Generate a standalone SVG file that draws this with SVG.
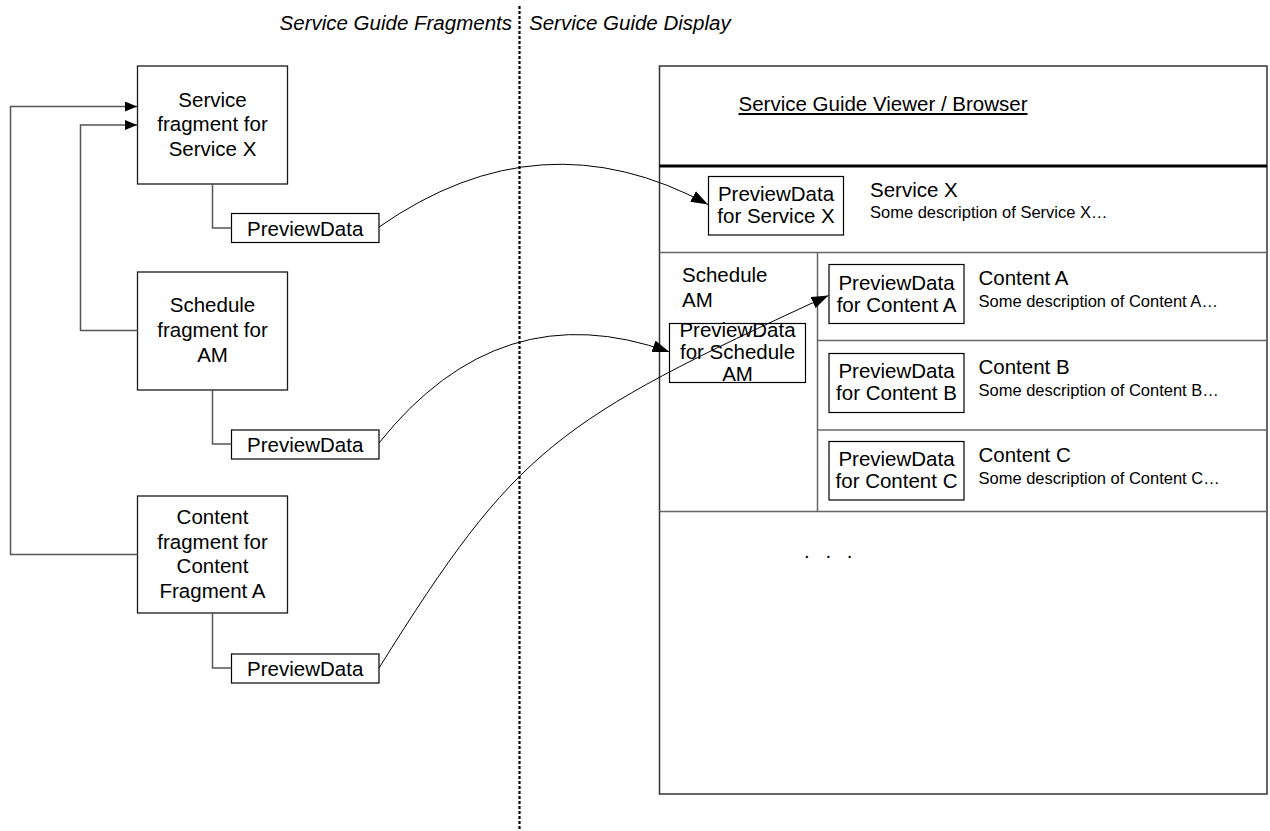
<svg xmlns="http://www.w3.org/2000/svg" width="1270" height="831" viewBox="0 0 1270 831">
<style>
text{font-family:"Liberation Sans",Arial,sans-serif;fill:#000}
.big{font-size:20.5px}
.mid{text-anchor:middle}
.small{font-size:16.5px}
.ttl{font-size:20.5px;font-style:italic}
.box{fill:#fff;stroke:#1a1a1a;stroke-width:1.3}
.pbox{fill:#fff;stroke:#000;stroke-width:1.2}
.con{fill:none;stroke:#555;stroke-width:1.5}
.curve{fill:none;stroke:#000;stroke-width:1}
.panel{fill:none;stroke:#666;stroke-width:1.5}
</style>
<defs>
<marker id="ah" markerUnits="userSpaceOnUse" markerWidth="18" markerHeight="12" refX="17" refY="6" orient="auto">
<path d="M0,0 L17,6 L0,12 z" fill="#000"/>
</marker>
<marker id="ahs" markerUnits="userSpaceOnUse" markerWidth="13" markerHeight="11" refX="12" refY="5" orient="auto">
<path d="M0,0 L12,5 L0,10 z" fill="#000"/>
</marker>
</defs>
<rect width="1270" height="831" fill="#fff"/>

<g id="titles">
<text class="ttl" x="512" y="30" text-anchor="end">Service Guide Fragments</text>
<text class="ttl" x="529" y="30">Service Guide Display</text>
<line x1="519.5" y1="6" x2="519.5" y2="831" stroke="#000" stroke-width="2.2" stroke-dasharray="3 2"/>
</g>

<g id="service-fragment">
<rect class="box" x="137.5" y="66" width="150" height="118"/>
<text class="big mid" x="212.5" y="106.5">Service</text>
<text class="big mid" x="212.5" y="131">fragment for</text>
<text class="big mid" x="212.5" y="155.7">Service X</text>
</g>
<g id="service-preview">
<rect class="pbox" x="231.5" y="213.5" width="147.5" height="29"/>
<text class="big mid" x="305.2" y="235.5">PreviewData</text>
</g>

<g id="schedule-fragment">
<rect class="box" x="137.5" y="272" width="150" height="118"/>
<text class="big mid" x="212.5" y="312">Schedule</text>
<text class="big mid" x="212.5" y="337">fragment for</text>
<text class="big mid" x="212.5" y="362">AM</text>
</g>
<g id="schedule-preview">
<rect class="pbox" x="231.5" y="430" width="147.5" height="29"/>
<text class="big mid" x="305.2" y="452">PreviewData</text>
</g>

<g id="content-fragment">
<rect class="box" x="137.5" y="496" width="150" height="117"/>
<text class="big mid" x="212.5" y="524">Content</text>
<text class="big mid" x="212.5" y="549">fragment for</text>
<text class="big mid" x="212.5" y="573">Content</text>
<text class="big mid" x="212.5" y="598">Fragment A</text>
</g>
<g id="content-preview">
<rect class="pbox" x="231.5" y="654" width="147.5" height="29"/>
<text class="big mid" x="305.2" y="675.8">PreviewData</text>
</g>

<g id="viewer">
<rect x="659.5" y="66" width="607.5" height="728" fill="none" stroke="#333" stroke-width="1.5"/>
<text class="big" x="738.5" y="111" text-decoration="underline">Service Guide Viewer / Browser</text>
<line x1="659.5" y1="166" x2="1267" y2="166" stroke="#000" stroke-width="3"/>
<line class="panel" x1="659.5" y1="252.5" x2="1267" y2="252.5"/>
<line class="panel" x1="817.5" y1="252.5" x2="817.5" y2="511.5"/>
<line class="panel" x1="817.5" y1="340.5" x2="1267" y2="340.5"/>
<line class="panel" x1="817.5" y1="430" x2="1267" y2="430"/>
<line class="panel" x1="659.5" y1="511.5" x2="1267" y2="511.5"/>
<text class="big" x="804" y="558" letter-spacing="5">. . .</text>
</g>

<g id="viewer-service-x">
<rect class="pbox" x="708.5" y="176.5" width="135" height="58.5"/>
<text class="big mid" x="776" y="201">PreviewData</text>
<text class="big mid" x="776" y="223">for Service X</text>
<text class="big" x="870" y="197">Service X</text>
<text class="small" x="870" y="217.5">Some description of Service X…</text>
</g>

<g id="viewer-schedule">
<text class="big" x="682" y="282">Schedule</text>
<text class="big" x="682" y="307">AM</text>
<rect class="pbox" x="669.5" y="323.5" width="136" height="59"/>
<text class="big mid" x="737.5" y="337.3">PreviewData</text>
<text class="big mid" x="737.5" y="359">for Schedule</text>
<text class="big mid" x="737.5" y="381.3">AM</text>
</g>

<g id="viewer-content-a">
<rect class="pbox" x="829" y="264.5" width="135" height="59"/>
<text class="big mid" x="896.5" y="289.5">PreviewData</text>
<text class="big mid" x="896.5" y="311.5">for Content A</text>
<text class="big" x="978.5" y="284.5">Content A</text>
<text class="small" x="978.5" y="307">Some description of Content A…</text>
</g>

<g id="viewer-content-b">
<rect class="pbox" x="829" y="353.5" width="135" height="59"/>
<text class="big mid" x="896.5" y="378">PreviewData</text>
<text class="big mid" x="896.5" y="400">for Content B</text>
<text class="big" x="978.5" y="374">Content B</text>
<text class="small" x="978.5" y="395.5">Some description of Content B…</text>
</g>

<g id="viewer-content-c">
<rect class="pbox" x="829" y="441.5" width="135" height="58.5"/>
<text class="big mid" x="896.5" y="465.5">PreviewData</text>
<text class="big mid" x="896.5" y="487.5">for Content C</text>
<text class="big" x="978.5" y="461.5">Content C</text>
<text class="small" x="978.5" y="484">Some description of Content C…</text>
</g>

<g id="connectors">
<path class="con" d="M212.5,184 V228 H231.5"/>
<path class="con" d="M212.5,390 V444 H231.5"/>
<path class="con" d="M212.5,613 V668 H231.5"/>
<path class="con" d="M137.5,330.5 H80.5 V125 H137" marker-end="url(#ahs)"/>
<path class="con" d="M137.5,554.5 H10.5 V106.5 H137" marker-end="url(#ahs)"/>
<path class="curve" d="M379,227 Q541,114 708,204.5" marker-end="url(#ah)"/>
<path class="curve" d="M379,443 Q500,291 669.5,352" marker-end="url(#ah)"/>
<path class="curve" d="M379,668 C517,447 556,421 828.5,295.5" marker-end="url(#ah)"/>
</g>
</svg>
